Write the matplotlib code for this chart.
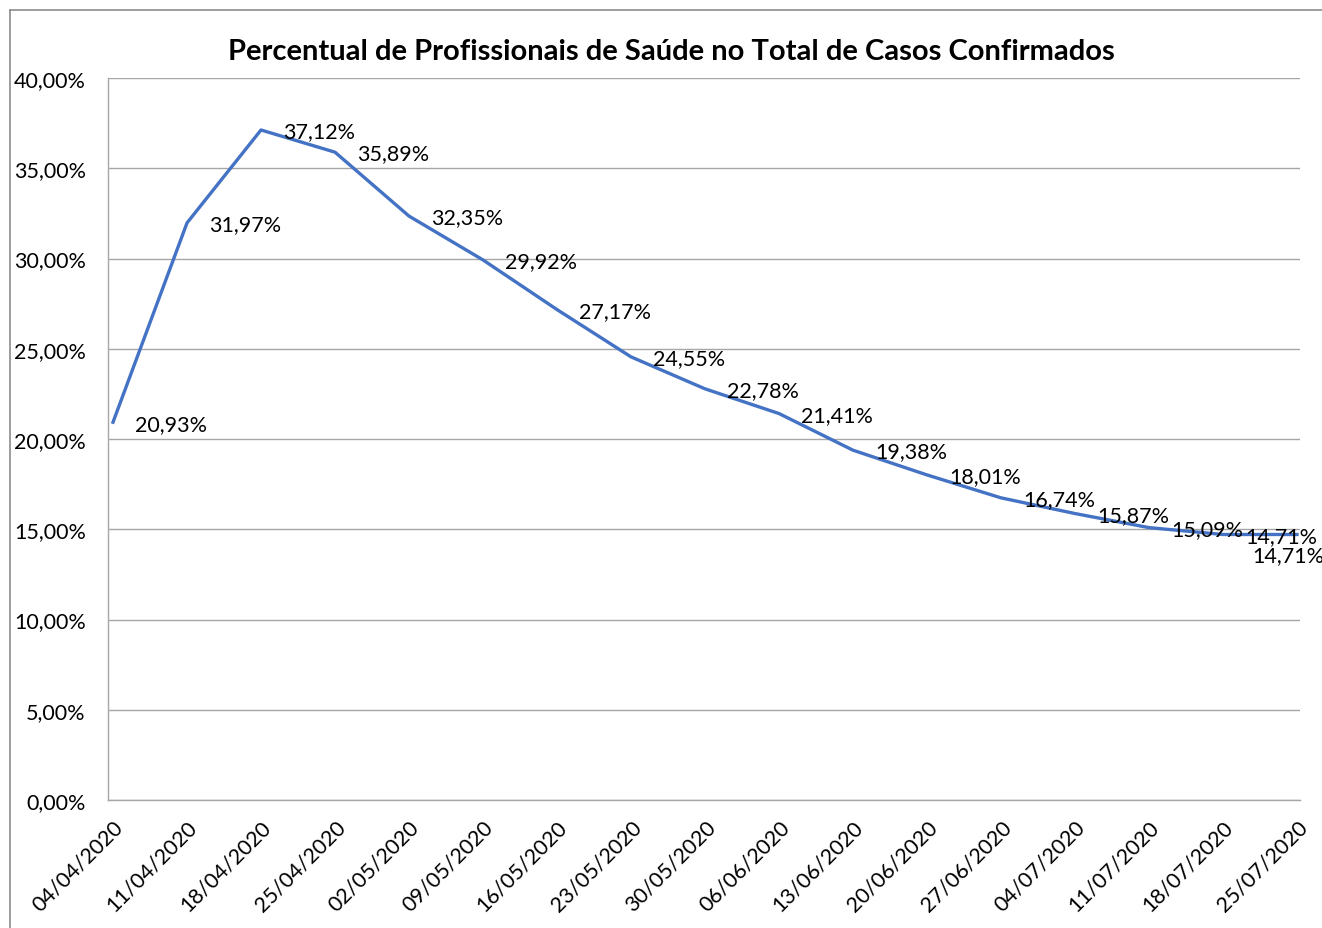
import matplotlib.pyplot as plt
from matplotlib.lines import Line2D
from matplotlib.ticker import FuncFormatter

# weekly dates and share of health professionals in confirmed cases (%)
datas = ["04/04/2020", "11/04/2020", "18/04/2020", "25/04/2020", "02/05/2020",
         "09/05/2020", "16/05/2020", "23/05/2020", "30/05/2020", "06/06/2020",
         "13/06/2020", "20/06/2020", "27/06/2020", "04/07/2020", "11/07/2020",
         "18/07/2020", "25/07/2020"]
percentual = [20.93, 31.97, 37.12, 35.89, 32.35, 29.92, 27.17, 24.55, 22.78,
              21.41, 19.38, 18.01, 16.74, 15.87, 15.09, 14.71, 14.71]
y_ticks = [0, 5, 10, 15, 20, 25, 30, 35, 40]

plt.rcParams['font.family'] = ['Lato', 'DejaVu Sans']


def pct(v):
    return f"{v:.2f}".replace(".", ",") + "%"


fig = plt.figure(figsize=(13.22, 9.29), dpi=100)
ax = fig.add_axes([108 / 1322, 1 - 801 / 929, 1192 / 1322, 722 / 929])

x = list(range(len(datas)))
ax.plot(x, percentual, color="#4472C4", linewidth=2.4, solid_joinstyle="round", zorder=3)

# data labels to the right of each point, the last one pushed below
for i, v in enumerate(percentual):
    if i == len(percentual) - 1:
        off = (-32, -15)
    else:
        off = (16, -1)
    ax.annotate(pct(v), (i, v), xytext=off, textcoords="offset points",
                ha="left", va="center", fontsize=15.5, color="black",
                annotation_clip=False, zorder=4)

ax.set_xlim(-5 / 74, 16 + 3 / 74)
ax.set_ylim(0, 40)
ax.set_yticks(y_ticks)
ax.yaxis.set_major_formatter(FuncFormatter(lambda v, _: pct(v)))
ax.set_xticks(x)
ax.set_xticklabels(datas, rotation=45, ha="right", va="top", rotation_mode="anchor")
ax.tick_params(axis="both", length=0, labelsize=15.5)
ax.tick_params(axis="y", pad=16)
ax.tick_params(axis="x", pad=12)
for lbl in ax.get_xticklabels():
    lbl.set_x(lbl.get_position()[0])
ax.grid(axis="y", color="#a6a6a6", linewidth=1.0)
ax.set_axisbelow(True)
for s in ["top", "right"]:
    ax.spines[s].set_visible(False)
for s in ["left", "bottom"]:
    ax.spines[s].set_color("#a6a6a6")
    ax.spines[s].set_linewidth(1.0)

fig.text(671 / 1322, 1 - 52 / 929, "Percentual de Profissionais de Saúde no Total de Casos Confirmados",
         ha="center", va="center", fontsize=21, fontweight="bold")

# chart frame (top and left edges only)
fx = 10 / 1322
fy = 1 - 11 / 929
fig.add_artist(Line2D([fx, 1.0], [fy, fy], transform=fig.transFigure,
                      color="#8c8c8c", linewidth=1.2))
fig.add_artist(Line2D([fx, fx], [0.0, fy], transform=fig.transFigure,
                      color="#8c8c8c", linewidth=1.2))

fig.savefig("out.png", dpi=100)
